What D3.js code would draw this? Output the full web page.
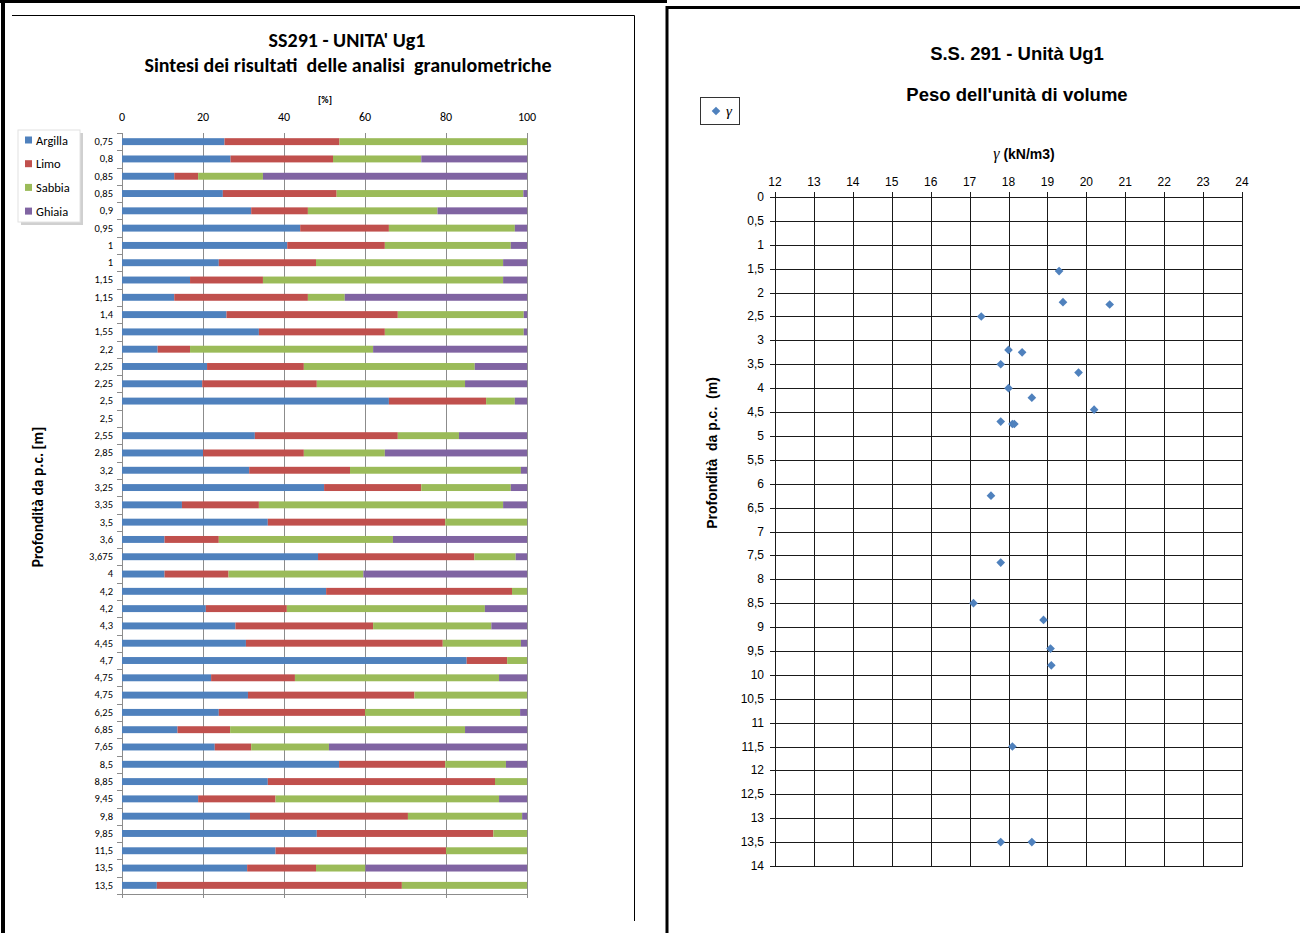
<!DOCTYPE html>
<html>
<head>
<meta charset="utf-8">
<script src="https://cdn.jsdelivr.net/npm/d3@7"></script>
<style>
  body { margin: 0; background: #fff; }
  svg { display: block; }
</style>
</head>
<body>
<svg id="chart" width="1300" height="933"></svg>
<script>
// ---- Grain-size summary (percent per fraction, one row per sample) ----
const depthLabels = ["0,75","0,8","0,85","0,85","0,9","0,95","1","1","1,15","1,15","1,4","1,55",
  "2,2","2,25","2,25","2,5","2,5","2,55","2,85","3,2","3,25","3,35","3,5","3,6","3,675","4",
  "4,2","4,2","4,3","4,45","4,7","4,75","4,75","6,25","6,85","7,65","8,5","8,85","9,45","9,8",
  "9,85","11,5","13,5","13,5"];
const argilla = [25.3,26.8,12.9,24.9,31.9,44.0,40.8,23.9,16.8,12.9,25.8,33.8,8.8,21.0,19.8,65.9,0,
  32.8,20.0,31.4,49.9,14.8,36.0,10.5,48.4,10.5,50.4,20.7,28.0,30.6,85.1,22.0,31.1,23.9,13.7,22.9,
  53.6,36.0,18.8,31.6,48.1,37.9,30.9,8.6];
const limo = [28.4,25.3,5.9,28.1,14.0,21.9,24.1,24.0,18.0,33.0,42.3,31.1,8.0,23.9,28.3,24.0,0,
  35.3,24.9,24.9,24.0,19.0,43.8,13.4,38.6,15.8,45.9,20.0,34.0,48.6,10.0,20.7,41.1,36.1,13.0,9.0,
  26.2,56.1,19.1,39.0,43.6,42.1,17.0,60.5];
const sabbia = [46.3,21.8,16.0,46.1,32.0,31.1,31.1,46.2,59.3,9.1,31.1,34.3,45.2,42.2,36.6,7.1,0,
  15.1,20.0,42.2,22.1,60.3,20.2,43.0,10.2,33.3,3.7,48.9,29.2,19.3,4.9,50.4,27.8,38.3,58.0,19.2,
  15.0,7.9,55.2,28.2,8.3,20.0,12.2,30.9];
const ghiaia = [0,26.1,65.2,0.9,22.1,3.0,4.0,5.9,5.9,45.0,0.8,0.8,38.0,12.9,15.3,3.0,0,
  16.8,35.1,1.5,4.0,5.9,0,33.1,2.8,40.4,0,10.4,8.8,1.5,0,6.9,0,1.7,15.3,48.9,
  5.2,0,6.9,1.2,0,0,39.9,0];
const fractionNames = ["Argilla","Limo","Sabbia","Ghiaia"];
const fractionColors = ["#4F81BD","#C0504D","#9BBB59","#8064A2"];
const percentTicks = [0,20,40,60,80,100];

// ---- Unit weight vs depth ----
const gammaDepth = [1.55,2.2,2.25,2.5,3.2,3.25,3.5,3.675,4.0,4.2,4.45,4.7,4.75,4.75,6.25,7.65,
  8.5,8.85,9.45,9.8,11.5,13.5,13.5];
const gammaValue = [19.3,19.4,20.6,17.3,18.0,18.35,17.8,19.8,18.0,18.6,20.2,17.8,18.1,18.15,17.55,17.8,
  17.1,18.9,19.08,19.1,18.1,17.8,18.6];
const gammaTicks = d3.range(12, 25, 1);
const depthTicks = d3.range(0, 14.01, 0.5);

const svg = d3.select("#chart");
const comma = v => String(v).replace(".", ",");

// ---------- page frames ----------
const frames = svg.append("g").attr("fill", "none").attr("stroke", "#000");
frames.append("line").attr("x1", 0).attr("x2", 667).attr("y1", 1.5).attr("y2", 1.5).attr("stroke-width", 3);
frames.append("line").attr("x1", 3).attr("x2", 3).attr("y1", 0).attr("y2", 933).attr("stroke-width", 4);
frames.append("line").attr("x1", 667).attr("x2", 667).attr("y1", 6).attr("y2", 933).attr("stroke-width", 3);
frames.append("line").attr("x1", 667).attr("x2", 1300).attr("y1", 7.5).attr("y2", 7.5).attr("stroke-width", 3);
frames.append("line").attr("x1", 12).attr("x2", 634.5).attr("y1", 15.5).attr("y2", 15.5).attr("stroke-width", 1);
frames.append("line").attr("x1", 634.5).attr("x2", 634.5).attr("y1", 15.5).attr("y2", 921).attr("stroke-width", 1);

// ---------- left chart: stacked bars ----------
const leftFont = "Carlito, Lato, 'Open Sans', sans-serif";
const L = svg.append("g").style("font-family", leftFont);

L.append("text").attr("x", 347).attr("y", 47).attr("text-anchor", "middle")
  .attr("font-size", 20).attr("font-weight", "bold").attr("fill", "#000")
  .text("SS291 - UNITA' Ug1");
L.append("text").attr("x", 348).attr("y", 72).attr("text-anchor", "middle")
  .attr("font-size", 20).attr("font-weight", "bold").attr("fill", "#000")
  .attr("xml:space", "preserve")
  .text("Sintesi dei risultati  delle analisi  granulometriche");
L.append("text").attr("x", 325).attr("y", 103).attr("text-anchor", "middle")
  .attr("font-size", 10).attr("font-weight", "bold").text("[%]");

const xP = d3.scaleLinear().domain([0, 100]).range([122, 527]);
const yB = d3.scaleBand().domain(d3.range(depthLabels.length)).range([133, 894])
  .paddingInner(0.6).paddingOuter(0.3);

// vertical grid
L.append("g").selectAll("line").data(percentTicks).join("line")
  .attr("x1", d => xP(d) + 0.5).attr("x2", d => xP(d) + 0.5)
  .attr("y1", 133).attr("y2", 898)
  .attr("stroke", "#8c8c8c").attr("stroke-width", 1);
// bottom edge
L.append("line").attr("x1", 122).attr("x2", 527.5).attr("y1", 894.5).attr("y2", 894.5)
  .attr("stroke", "#8c8c8c");

// top value axis labels
L.append("g").selectAll("text").data(percentTicks).join("text")
  .attr("x", d => xP(d)).attr("y", 121).attr("text-anchor", "middle")
  .attr("font-size", 12).attr("fill", "#000").text(d => d);

// category axis: tick marks at band edges, labels centered on bands
const yAxis = d3.axisLeft(yB).tickSize(0).tickPadding(9).tickFormat(i => depthLabels[i]);
const ya = L.append("g").attr("transform", "translate(122,0)").call(yAxis);
ya.select(".domain").remove();
ya.selectAll("text").attr("font-size", 10.5).attr("fill", "#000").style("font-family", leftFont);
const edges = d3.range(depthLabels.length + 1).map(i => 133 + i * yB.step());
L.append("g").selectAll("line").data(edges).join("line")
  .attr("x1", 117).attr("x2", 122).attr("y1", d => Math.round(d) + 0.5).attr("y2", d => Math.round(d) + 0.5)
  .attr("stroke", "#8c8c8c");

// stacked bars
const rows = depthLabels.map((lab, i) => ({ i, Argilla: argilla[i], Limo: limo[i], Sabbia: sabbia[i], Ghiaia: ghiaia[i] }));
const stacked = d3.stack().keys(fractionNames)(rows);
L.append("g").selectAll("g").data(stacked).join("g")
  .attr("fill", (d, k) => fractionColors[k])
  .selectAll("rect").data(d => d).join("rect")
  .attr("x", d => xP(d[0])).attr("width", d => Math.max(0, xP(d[1]) - xP(d[0])))
  .attr("y", d => yB(d.data.i)).attr("height", yB.bandwidth());

// axis title
L.append("text").attr("transform", "translate(43,497) rotate(-90)").attr("text-anchor", "middle")
  .attr("font-size", 15.5).attr("font-weight", "bold").text("Profondità da p.c. [m]");

// legend with soft shadow
const lg = L.append("g");
lg.append("rect").attr("x", 21).attr("y", 133).attr("width", 62).attr("height", 92).attr("fill", "#d0d0d0");
lg.append("rect").attr("x", 18).attr("y", 130).attr("width", 62).attr("height", 92).attr("fill", "#fff")
  .attr("stroke", "#e2e2e2");
const li = lg.selectAll("g.it").data(fractionNames).join("g").attr("class", "it")
  .attr("transform", (d, k) => `translate(25,${140 + k * 23.7})`);
li.append("rect").attr("x", 0).attr("y", -3.5).attr("width", 7).attr("height", 7)
  .attr("fill", (d, k) => fractionColors[k]);
li.append("text").attr("x", 11).attr("y", 4.5).attr("font-size", 12.5).text(d => d);

// ---------- right chart: unit weight scatter ----------
const R = svg.append("g").style("font-family", "'Liberation Sans', Arial, sans-serif");
R.append("text").attr("x", 1017).attr("y", 60).attr("text-anchor", "middle")
  .attr("font-size", 18.5).attr("font-weight", "bold").text("S.S. 291 - Unità Ug1");
R.append("text").attr("x", 1017).attr("y", 101).attr("text-anchor", "middle")
  .attr("font-size", 18.5).attr("font-weight", "bold").text("Peso dell'unità di volume");

const xG = d3.scaleLinear().domain([12, 24]).range([775, 1242]);
const yD = d3.scaleLinear().domain([0, 14]).range([197, 866]);

const grid = R.append("g").attr("stroke", "#1a1a1a").attr("stroke-width", 1);
grid.selectAll("line.v").data(gammaTicks).join("line").attr("class", "v")
  .attr("x1", d => Math.round(xG(d)) + 0.5).attr("x2", d => Math.round(xG(d)) + 0.5)
  .attr("y1", 192).attr("y2", yD(14));
grid.selectAll("line.h").data(depthTicks).join("line").attr("class", "h")
  .attr("x1", 770).attr("x2", xG(24) + 1)
  .attr("y1", d => Math.round(yD(d)) + 0.5).attr("y2", d => Math.round(yD(d)) + 0.5);

R.append("g").selectAll("text").data(gammaTicks).join("text")
  .attr("x", d => xG(d)).attr("y", 186).attr("text-anchor", "middle")
  .attr("font-size", 12).text(d => d);
R.append("g").selectAll("text").data(depthTicks).join("text")
  .attr("x", 764).attr("y", d => yD(d) + 4).attr("text-anchor", "end")
  .attr("font-size", 12).text(d => comma(d));

const xt = R.append("text").attr("x", 1024).attr("y", 159).attr("text-anchor", "middle");
xt.append("tspan").attr("font-family", "'Liberation Serif', 'DejaVu Serif', serif").attr("font-style", "italic")
  .attr("font-size", 16).text("γ");
xt.append("tspan").attr("font-size", 14).attr("font-weight", "bold").text(" (kN/m3)");

R.append("text").attr("transform", "translate(717,453) rotate(-90)").attr("text-anchor", "middle")
  .attr("font-size", 14).attr("font-weight", "bold").attr("xml:space", "preserve")
  .text("Profondità  da p.c.  (m)");

const diamond = d3.symbol().type(d3.symbolDiamond2).size(48);
R.append("g").selectAll("path").data(gammaDepth).join("path")
  .attr("transform", (d, i) => `translate(${xG(gammaValue[i])},${yD(d)})`)
  .attr("d", diamond).attr("fill", "#4F81BD");

// legend
R.append("rect").attr("x", 700.5).attr("y", 97.5).attr("width", 39).attr("height", 27)
  .attr("fill", "#fff").attr("stroke", "#333");
R.append("path").attr("transform", "translate(716,111)").attr("d", diamond).attr("fill", "#4F81BD");
R.append("text").attr("x", 726).attr("y", 116).attr("font-size", 15)
  .attr("font-family", "'Liberation Serif', 'DejaVu Serif', serif").attr("font-style", "italic").text("γ");
</script>
</body>
</html>
